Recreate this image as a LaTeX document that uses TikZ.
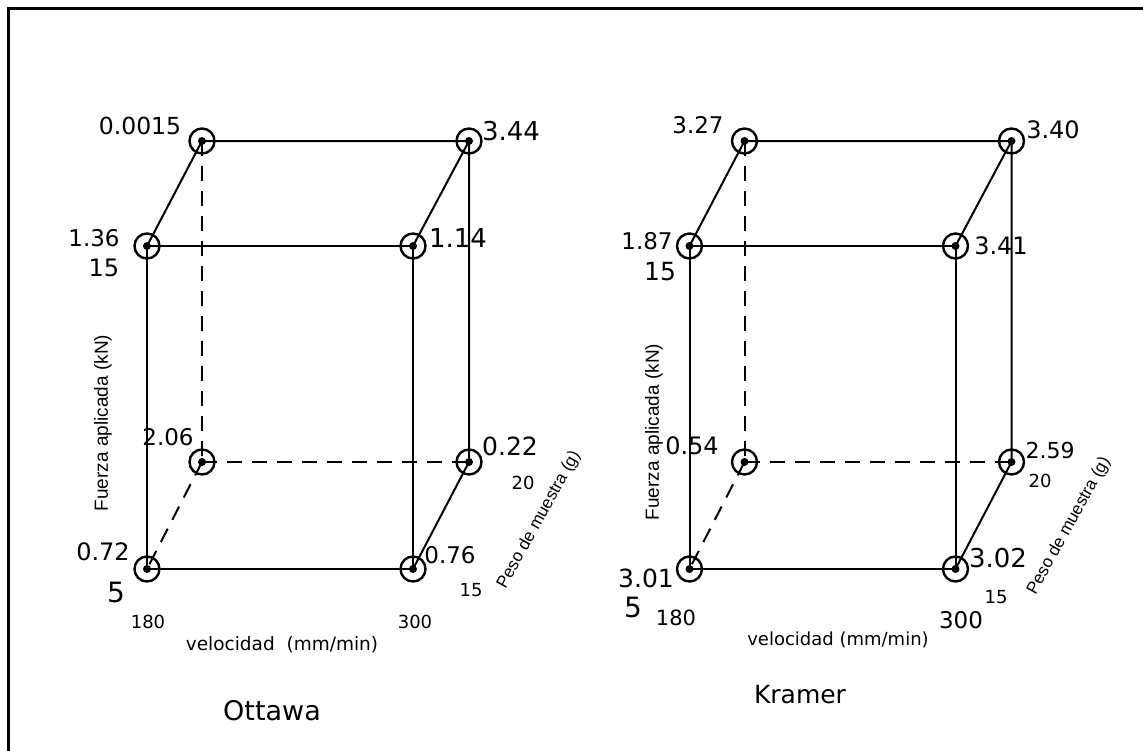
\documentclass[tikz,border=0pt]{standalone}
\usepackage{fontspec}
\setmainfont{DejaVu Sans}
\newfontfamily\axisfont{Liberation Sans}
\newcommand\setfs[1]{\fontsize{#1}{#1}\selectfont}
\begin{document}
\begin{tikzpicture}[x=1pt,y=-1pt,
  edge/.style={line width=2pt},
  hidden/.style={line width=2pt,dash pattern=on 15pt off 10pt},
  vtx/.style={circle,draw,line width=2.4pt,minimum size=25pt,inner sep=0pt},
  val/.style={inner sep=0pt,anchor=center},
  axis/.style={inner sep=0pt,font=\axisfont\setfs{19}}]
\useasboundingbox (0,0) rectangle (1143,750);
% frame
\draw[line width=3pt] (8,752) -- (8,8) -- (1146,8);

% two cubes: Ottawa (o) and Kramer (k)
\foreach \p/\dx in {o/0,k/542.5}{
  \coordinate (\p-fbl) at (147+\dx,569);
  \coordinate (\p-fbr) at (413+\dx,569);
  \coordinate (\p-ftl) at (147+\dx,246);
  \coordinate (\p-ftr) at (413+\dx,246);
  \coordinate (\p-btl) at (202+\dx,141);
  \coordinate (\p-btr) at (469+\dx,141);
  \coordinate (\p-bbl) at (202+\dx,462);
  \coordinate (\p-bbr) at (469+\dx,462);
  % hidden edges
  \draw[hidden] (\p-btl) -- (\p-bbl);
  \draw[hidden] (\p-bbl) -- (\p-bbr);
  \draw[hidden] (\p-bbl) -- (\p-fbl);
  % visible edges
  \draw[edge] (\p-ftl) -- (\p-ftr) -- (\p-fbr) -- (\p-fbl) -- cycle;
  \draw[edge] (\p-ftl) -- (\p-btl) -- (\p-btr) -- (\p-ftr);
  \draw[edge] (\p-btr) -- (\p-bbr) -- (\p-fbr);
  % design points
  \foreach \v in {fbl,fbr,ftl,ftr,btl,btr,bbl,bbr}{
    \node[vtx] (\p-\v-pt) at (\p-\v) {};
    \fill (\p-\v) circle (4);
  }
}

% Ottawa values
\node[val,font=\setfs{23.5}] (o-l1) at (140,126) {0.0015};
\node[val,font=\setfs{26}] (o-l2) at (511,131) {3.44};
\node[val,font=\setfs{23}] (o-l3) at (94,238) {1.36};
\node[val,font=\setfs{26}] (o-l4) at (458,238) {1.14};
\node[val,font=\setfs{23}] (o-l5) at (168,437) {2.06};
\node[val,font=\setfs{25}] (o-l6) at (510,446) {0.22};
\node[val,font=\setfs{24}] (o-l7) at (103,552) {0.72};
\node[val,font=\setfs{23}] (o-l8) at (450,555) {0.76};
% Ottawa factor levels
\node[val,font=\setfs{24}] (o-f15) at (104,268) {15};
\node[val,font=\setfs{28}] (o-f5) at (116,592) {5};
\node[val,font=\setfs{18}] (o-v1) at (148,622) {180};
\node[val,font=\setfs{18}] (o-v2) at (415,622) {300};
\node[val,font=\setfs{18}] (o-w1) at (471,590) {15};
\node[val,font=\setfs{18}] (o-w2) at (523,483) {20};
% Ottawa axes
\node[axis,rotate=90] (o-ay) at (103,423) {Fuerza aplicada (kN)};
\node[axis,rotate=61,font=\axisfont\setfs{17}] (o-az) at (539,520) {Peso de muestra (g)};
\node[val,font=\setfs{18.5}] (o-ax) at (282,645) {velocidad \ (mm/min)};
\node[val,font=\setfs{27}] (o-t) at (272,711) {Ottawa};

% Kramer values
\node[val,font=\setfs{23}] (k-l1) at (698,125) {3.27};
\node[val,font=\setfs{24}] (k-l2) at (1053,130) {3.40};
\node[val,font=\setfs{23}] (k-l3) at (647,241) {1.87};
\node[val,font=\setfs{24}] (k-l4) at (1001,246) {3.41};
\node[val,font=\setfs{24}] (k-l5) at (692,446) {0.54};
\node[val,font=\setfs{22}] (k-l6) at (1050,450) {2.59};
\node[val,font=\setfs{25}] (k-l7) at (646,578) {3.01};
\node[val,font=\setfs{26}] (k-l8) at (998,558) {3.02};
% Kramer factor levels
\node[val,font=\setfs{25}] (k-f15) at (660,272) {15};
\node[val,font=\setfs{28}] (k-f5) at (633,607) {5};
\node[val,font=\setfs{21}] (k-v1) at (676,618) {180};
\node[val,font=\setfs{23}] (k-v2) at (961,620) {300};
\node[val,font=\setfs{18}] (k-w1) at (996,597) {15};
\node[val,font=\setfs{18}] (k-w2) at (1040,481) {20};
% Kramer axes
\node[axis,rotate=90] (k-ay) at (654,432) {Fuerza aplicada (kN)};
\node[axis,rotate=61,font=\axisfont\setfs{17}] (k-az) at (1069,526) {Peso de muestra (g)};
\node[val,font=\setfs{18}] (k-ax) at (838,640) {velocidad (mm/min)};
\node[val,font=\setfs{25}] (k-t) at (800,695) {Kramer};
\end{tikzpicture}
\end{document}
